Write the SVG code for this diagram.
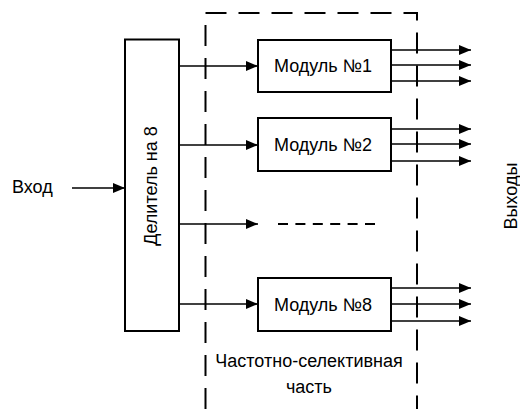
<svg xmlns="http://www.w3.org/2000/svg" width="520" height="409" viewBox="0 0 520 409">
<style>
.box{fill:#fff;stroke:#000;stroke-width:2}
.ln{fill:none;stroke:#000;stroke-width:1.3}
.dash{fill:none;stroke:#000;stroke-width:2;stroke-dasharray:21 12}
.t{font-family:"Liberation Sans",Arial,sans-serif;font-size:18px;fill:#000}
</style>
<defs>
<marker id="ah" viewBox="0 0 12 10" refX="12" refY="5" markerWidth="12" markerHeight="10" markerUnits="userSpaceOnUse" orient="auto">
<path d="M0,0 L12,5 L0,10 Z" fill="#000"/>
</marker>
</defs>
<rect width="520" height="409" fill="#fff"/>
<g id="region">
<path class="dash" d="M205.5,409 V13 H417 V409"/>
<text class="t" x="309" y="367" text-anchor="middle">Частотно-селективная</text>
<text class="t" x="309" y="393" text-anchor="middle">часть</text>
</g>
<g id="connectors">
<line class="ln" x1="72" y1="188" x2="125" y2="188" marker-end="url(#ah)"/>
<line class="ln" x1="179" y1="66" x2="258" y2="66" marker-end="url(#ah)"/>
<line class="ln" x1="179" y1="145" x2="258" y2="145" marker-end="url(#ah)"/>
<line class="ln" x1="179" y1="224" x2="258" y2="224" marker-end="url(#ah)"/>
<line class="ln" x1="179" y1="304" x2="258" y2="304" marker-end="url(#ah)"/>
<line class="ln" x1="391" y1="50" x2="471" y2="50" marker-end="url(#ah)"/>
<line class="ln" x1="391" y1="65" x2="471" y2="65" marker-end="url(#ah)"/>
<line class="ln" x1="391" y1="81" x2="471" y2="81" marker-end="url(#ah)"/>
<line class="ln" x1="391" y1="129" x2="471" y2="129" marker-end="url(#ah)"/>
<line class="ln" x1="391" y1="144" x2="471" y2="144" marker-end="url(#ah)"/>
<line class="ln" x1="391" y1="161" x2="471" y2="161" marker-end="url(#ah)"/>
<line class="ln" x1="391" y1="288" x2="471" y2="288" marker-end="url(#ah)"/>
<line class="ln" x1="391" y1="304" x2="471" y2="304" marker-end="url(#ah)"/>
<line class="ln" x1="391" y1="321" x2="471" y2="321" marker-end="url(#ah)"/>
<line x1="278" y1="224" x2="375" y2="224" stroke="#000" stroke-width="2" stroke-dasharray="10 7.4"/>
</g>
<g id="input">
<text class="t" x="12" y="193">Вход</text>
</g>
<g id="divider">
<rect class="box" x="125" y="39.5" width="54" height="291.5"/>
<text class="t" transform="translate(157,186) rotate(-90)" text-anchor="middle">Делитель на 8</text>
</g>
<g id="module1">
<rect class="box" x="258" y="40" width="133" height="52"/>
<text class="t" x="323" y="72" text-anchor="middle">Модуль №1</text>
</g>
<g id="module2">
<rect class="box" x="258" y="118" width="133" height="53"/>
<text class="t" x="323" y="150.5" text-anchor="middle">Модуль №2</text>
</g>
<g id="module8">
<rect class="box" x="258" y="278" width="133" height="53"/>
<text class="t" x="323" y="310.5" text-anchor="middle">Модуль №8</text>
</g>
<g id="outputs">
<text class="t" transform="translate(517,196) rotate(-90)" text-anchor="middle">Выходы</text>
</g>
</svg>
